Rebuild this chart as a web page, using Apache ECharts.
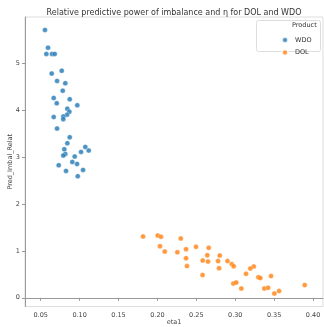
<!DOCTYPE html>
<html>
<head>
<meta charset="utf-8">
<script src="https://cdn.jsdelivr.net/npm/echarts@6/dist/echarts.min.js"></script>
<style>
  html, body { margin: 0; padding: 0; background: #fff; }
  #chart { width: 324px; height: 327px; }
</style>
</head>
<body>
<div id="chart"></div>
<script>
// WDO points: eta1 / Pred_Imbal_Relat
const wdoEta = [0.0555, 0.0594, 0.0572, 0.0645, 0.0680, 0.0770, 0.0641, 0.0710, 0.0816, 0.0783,
  0.0667, 0.0873, 0.0706, 0.0970, 0.0842, 0.0868, 0.0838, 0.0667, 0.0790, 0.0790,
  0.0710, 0.0873, 0.0842, 0.1073, 0.0803, 0.1018, 0.1117, 0.0816, 0.0790, 0.0937,
  0.0906, 0.0967, 0.0731, 0.1044, 0.0825, 0.0976]
const wdoPred = [5.714, 5.337, 5.203, 5.203, 5.203, 4.846, 4.783, 4.627, 4.578, 4.420,
  4.264, 4.237, 4.151, 4.109, 4.036, 3.972, 3.908, 3.859, 3.870, 3.812,
  3.610, 3.426, 3.299, 3.220, 3.171, 3.113, 3.141, 3.070, 3.034, 3.013,
  2.900, 2.857, 2.829, 2.729, 2.708, 2.595]

// DOL points
const dolEta = [0.1815, 0.2004, 0.2046, 0.2300, 0.2033, 0.2094, 0.2256, 0.2368, 0.2496, 0.2659,
  0.2368, 0.2380, 0.2582, 0.2641, 0.2650, 0.2801, 0.2580, 0.2779, 0.2792, 0.2901,
  0.2955, 0.2981, 0.3238, 0.3194, 0.3139, 0.3297, 0.3323, 0.3460, 0.2976, 0.3013,
  0.3078, 0.3374, 0.3422, 0.3503, 0.3563, 0.3893]
const dolPred = [1.307, 1.328, 1.301, 1.264, 1.102, 0.987, 0.974, 1.038, 1.087, 1.066,
  0.846, 0.676, 0.795, 0.910, 0.774, 0.902, 0.486, 0.783, 0.633, 0.785,
  0.719, 0.672, 0.667, 0.625, 0.512, 0.441, 0.420, 0.463, 0.303, 0.326,
  0.198, 0.198, 0.213, 0.092, 0.143, 0.271]

const xTicks = [0.05, 0.10, 0.15, 0.20, 0.25, 0.30, 0.35, 0.40]
const yTicks = [0, 1, 2, 3, 4, 5]

const FONT = 'DejaVu Sans'
const AXIS_COLOR = '#999'
const LABEL_COLOR = '#444'

const zip = (a, b) => a.map((v, i) => [v, b[i]])

const chart = echarts.init(document.getElementById('chart'), null, { renderer: 'canvas' })

chart.setOption({
  backgroundColor: '#fff',
  animation: false,
  title: {
    text: 'Relative predictive power of imbalance and η for DOL and WDO',
    left: 169,
    textAlign: 'center',
    top: 4,
    textStyle: { fontFamily: FONT, fontSize: 8, fontWeight: 'normal', color: '#333' }
  },
  grid: {
    left: 25, top: 17, right: 1, bottom: 20.5,
    outerBoundsMode: 'none',
    containLabel: false,
    show: true, borderColor: '#ddd', borderWidth: 1
  },
  xAxis: {
    type: 'value',
    min: 0.0298,
    max: 0.4128,
    name: 'eta1',
    nameLocation: 'middle',
    nameGap: 12,
    nameMoveOverlap: false,
    nameTextStyle: { fontFamily: FONT, fontSize: 6.5, color: LABEL_COLOR, verticalAlign: 'top' },
    splitLine: { show: false },
    axisLine: { show: true, lineStyle: { color: AXIS_COLOR, width: 1 } },
    axisTick: { show: true, length: 3, customValues: xTicks, lineStyle: { color: AXIS_COLOR } },
    axisLabel: {
      customValues: xTicks,
      formatter: v => v.toFixed(2),
      fontFamily: FONT, fontSize: 6.5, color: LABEL_COLOR, margin: 5
    }
  },
  yAxis: {
    type: 'value',
    min: -0.1855,
    max: 5.991,
    name: 'Pred_Imbal_Relat',
    nameLocation: 'middle',
    nameGap: 11.5,
    nameMoveOverlap: false,
    nameTextStyle: { fontFamily: FONT, fontSize: 6.5, color: LABEL_COLOR },
    splitLine: { show: false },
    axisLine: { show: true, lineStyle: { color: AXIS_COLOR, width: 1 } },
    axisTick: { show: true, length: 3, customValues: yTicks, lineStyle: { color: AXIS_COLOR } },
    axisLabel: {
      customValues: yTicks,
      fontFamily: FONT, fontSize: 6.5, color: LABEL_COLOR, margin: 5
    }
  },
  legend: {
    orient: 'vertical',
    left: 276,
    top: 31,
    itemWidth: 6,
    itemHeight: 6,
    itemGap: 4.5,
    icon: 'circle',
    data: ['WDO', 'DOL'],
    textStyle: { fontFamily: FONT, fontSize: 6.5, color: '#333', padding: [0, 0, 0, 2] }
  },
  graphic: [
    {
      type: 'rect',
      z: -1,
      shape: { x: 256.5, y: 20.5, width: 64, height: 31, r: 2 },
      style: { fill: '#fff', stroke: '#ddd', lineWidth: 1 }
    },
    {
      type: 'text',
      left: 292,
      top: 21.5,
      style: { text: 'Product', fontFamily: FONT, fontSize: 6.5, fill: '#333' }
    }
  ],
  series: [
    {
      name: 'WDO',
      type: 'scatter',
      symbolSize: 5,
      itemStyle: { color: '#1f77b4', borderColor: '#fff', borderWidth: 0.4 },
      data: zip(wdoEta, wdoPred)
    },
    {
      name: 'DOL',
      type: 'scatter',
      symbolSize: 5,
      itemStyle: { color: '#ff7f0e', borderColor: '#fff', borderWidth: 0.4 },
      data: zip(dolEta, dolPred)
    }
  ]
})
</script>
</body>
</html>
